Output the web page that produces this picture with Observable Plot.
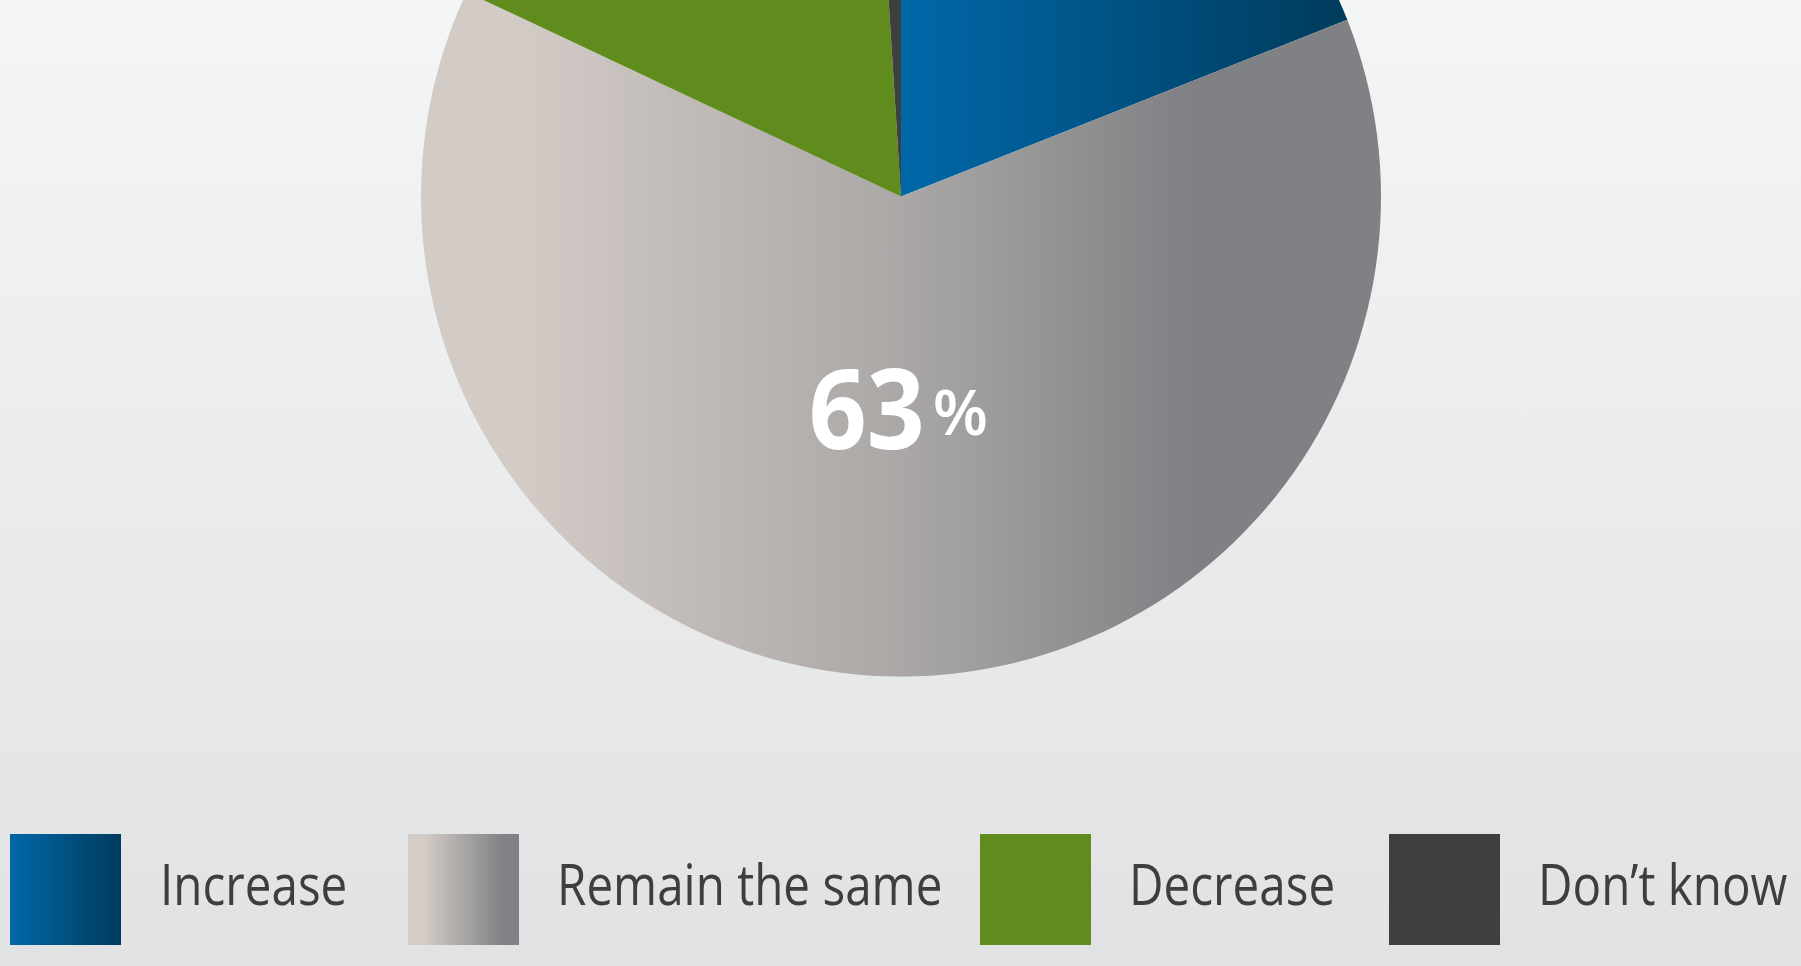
<!DOCTYPE html>
<html>
<head>
<meta charset="utf-8">
<script src="https://cdn.jsdelivr.net/npm/d3@7"></script>
<script src="https://cdn.jsdelivr.net/npm/@observablehq/plot@0.6"></script>
<style>
  html, body { margin: 0; padding: 0; width: 1801px; height: 966px; overflow: hidden; }
  body { background: linear-gradient(to bottom, #f4f5f5 0%, #e1e2e3 100%); }
  #chart svg { display: block; }
  #legend { position: relative; width: 1801px; height: 166px; font-family: "Open Sans", sans-serif; }
  .sw { position: absolute; top: 34px; width: 111px; height: 111px; }
  .lt { position: absolute; top: 55px; font-size: 56px; line-height: 1; color: #3e3e3e; white-space: nowrap;
        transform: scaleX(0.85); transform-origin: left center; }
</style>
</head>
<body>
<div id="chart"></div>
<div id="legend"></div>
<script>
// ---- data ----
const categories = ["Increase", "Remain the same", "Decrease", "Don\u2019t know"];
const values = [19, 63, 17, 1];
const labelled = ["Remain the same"];

// ---- styles ----
const fills = ["url(#gInc)", "url(#gRem)", "#5f8c1c", "#3f3f3f"];
const legendFills = [
  "linear-gradient(to right, #0068a9 0%, #003b5c 100%)",
  "linear-gradient(to right, #d3ccc7 15%, #a9a6a6 50%, #818286 85%)",
  "#5f8c1c",
  "#3f3f3f"
];
const cx = 901, cy = 196.5, R = 480; // layout of the pie in pixels
const W = 1801, H = 800;

const data = categories.map((c, i) => ({category: c, value: values[i]}));
const arcs = d3.pie().sort(null).value(d => d.value)(data);
const color = Plot.scale({color: {type: "ordinal", domain: categories, range: fills}});

const labelData = arcs
  .filter(a => labelled.includes(a.data.category))
  .map(a => {
    const mid = (a.startAngle + a.endAngle) / 2;
    return {x: Math.sin(mid) * 0.45, y: Math.cos(mid) * 0.45, pct: String(a.data.value)};
  });

function pieMark(index, scales) {
  const x0 = scales.x(0), y0 = scales.y(0), r = scales.x(1) - scales.x(0);
  const g = d3.create("svg:g");
  const defs = g.append("defs");
  const gi = defs.append("linearGradient").attr("id", "gInc").attr("x1", 0).attr("x2", 1).attr("y1", 0).attr("y2", 0);
  gi.append("stop").attr("offset", 0).attr("stop-color", "#0068a9");
  gi.append("stop").attr("offset", 1).attr("stop-color", "#003b5c");
  const gr = defs.append("linearGradient").attr("id", "gRem").attr("x1", 0).attr("x2", 1).attr("y1", 0).attr("y2", 0);
  gr.append("stop").attr("offset", 0.1).attr("stop-color", "#d3cbc6");
  gr.append("stop").attr("offset", 0.5).attr("stop-color", "#aaa7a6");
  gr.append("stop").attr("offset", 0.8).attr("stop-color", "#808185");
  const arc = d3.arc().innerRadius(0).outerRadius(r);
  g.selectAll("path").data(arcs).join("path")
    .attr("transform", `translate(${x0},${y0})`)
    .attr("d", arc)
    .attr("fill", d => color.apply(d.data.category));
  return g.node();
}

const chart = Plot.plot({
  width: W,
  height: H,
  style: {background: "transparent", overflow: "hidden"},
  x: {domain: [-1, 1], range: [cx - R, cx + R], axis: null},
  y: {domain: [-1, 1], range: [cy + R, cy - R], axis: null},
  marks: [
    pieMark,
    Plot.text(labelData, {x: "x", y: "y", text: "pct", textAnchor: "end", dx: 30, fill: "white",
      fontSize: 112, fontWeight: "bold", fontFamily: "Open Sans"}),
    Plot.text(labelData, {x: "x", y: "y", text: () => "%", textAnchor: "start", dx: 38, dy: 2, fill: "white",
      fontSize: 64, fontWeight: 600, fontFamily: "Open Sans"})
  ]
});
// condense the big number slightly (narrower digits as in the original)
const pcts = labelData.map(d => d.pct);
d3.select(chart).selectAll("text")
  .filter(function() { return pcts.includes(this.textContent); })
  .attr("textLength", 116)
  .attr("lengthAdjust", "spacingAndGlyphs");
document.getElementById("chart").appendChild(chart);

// ---- legend ----
const swatchX = [10, 408, 980, 1389];
const textX = [160, 557, 1129, 1538];
const legend = document.getElementById("legend");
categories.forEach((c, i) => {
  const s = document.createElement("div");
  s.className = "sw";
  s.style.left = swatchX[i] + "px";
  s.style.background = legendFills[i];
  legend.appendChild(s);
  const t = document.createElement("span");
  t.className = "lt";
  t.style.left = textX[i] + "px";
  t.textContent = c;
  legend.appendChild(t);
});
</script>
</body>
</html>
